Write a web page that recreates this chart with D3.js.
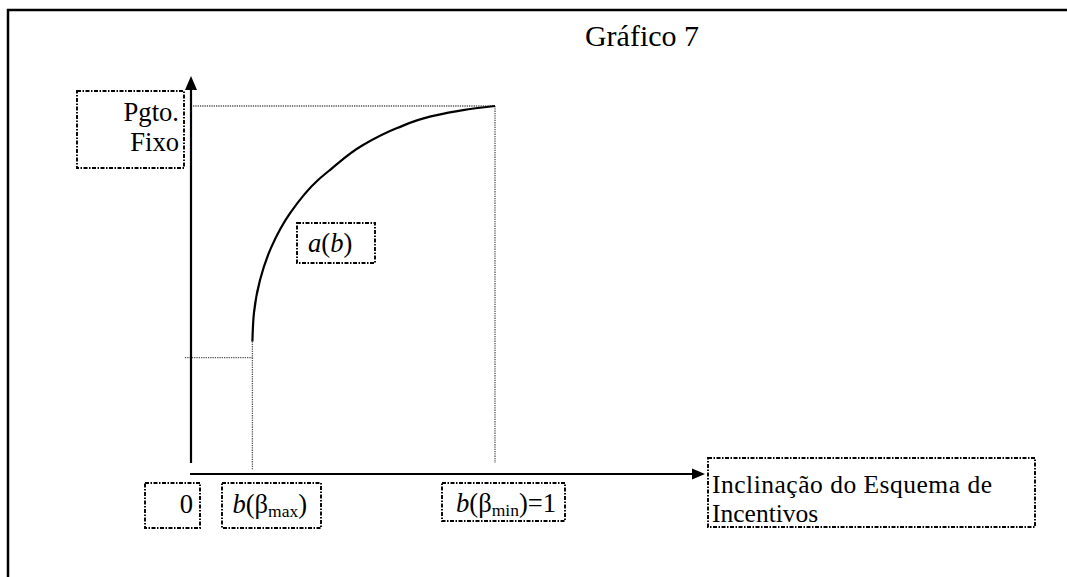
<!DOCTYPE html>
<html><head><meta charset="utf-8">
<script src="https://cdn.jsdelivr.net/npm/d3@7"></script>
<style>body{margin:0;background:#fff}svg{display:block}text{font-family:"Liberation Serif","Times New Roman",serif;fill:#000}</style>
</head><body><svg id="c" width="1067" height="577"></svg>
<script>
// ---- data ----
const title = "Gráfico 7";
const curveB = [0.202,0.207,0.227,0.265,0.326,0.418,0.457,0.566,0.678,0.786,0.895,1.0];
const curveA = [0.360,0.437,0.527,0.618,0.709,0.799,0.826,0.894,0.940,0.971,0.989,1.0];
const bMax = 0.202, bMin = 1.0;
const aLow = 0.316, aTop = 1.0;
const yLabel = ["Pgto.", "Fixo"];
const xLabel = ["Inclinação do Esquema de", "Incentivos"];
const tickLabels = ["0", "b(βmax)", "b(βmin)=1"];

const svg = d3.select("#c");
const x = d3.scaleLinear().domain([0,1]).range([191,495]);
const y = d3.scaleLinear().domain([0,1]).range([474,106]);
const DASH = "4 1.5 1.5 1.5";
const FS = 26.6;

// outer frame
svg.append("rect").attr("x",8).attr("y",10).attr("width",1200).attr("height",700)
  .attr("fill","none").attr("stroke","#000").attr("stroke-width",2.5);

// title
svg.append("text").attr("x",642).attr("y",46).attr("text-anchor","middle")
  .attr("font-size",30).text(title);

// dotted guides
const dotted = (x1,y1,x2,y2)=>svg.append("line").attr("x1",x1).attr("y1",y1).attr("x2",x2).attr("y2",y2)
  .attr("stroke","#555").attr("stroke-width",1.3).attr("stroke-dasharray","1.3 1");
dotted(x(0)+2, y(aTop), x(bMin), y(aTop));
dotted(x(bMin), y(aTop), x(bMin), y(0.03));
dotted(x(-0.02), y(aLow), x(bMax), y(aLow));
dotted(x(bMax), y(curveA[0]), x(bMax), y(0.011));

// axes
svg.append("line").attr("x1",x(0)).attr("y1",y(0.03)).attr("x2",x(0)).attr("y2",88)
  .attr("stroke","#000").attr("stroke-width",2.2);
svg.append("path").attr("d",`M${x(0)-6},90 L${x(0)},76 L${x(0)+6},90 Z`).attr("fill","#000");
svg.append("line").attr("x1",x(0)-1).attr("y1",y(0)).attr("x2",694).attr("y2",y(0))
  .attr("stroke","#000").attr("stroke-width",2.2);
svg.append("path").attr("d",`M692,${y(0)-5.5} L705,${y(0)} L692,${y(0)+5.5} Z`).attr("fill","#000");

// curve
const pts = curveB.map((b,i)=>[b,curveA[i]]);
svg.append("path").datum(pts)
  .attr("d", d3.line().x(d=>x(d[0])).y(d=>y(d[1])).curve(d3.curveMonotoneY))
  .attr("fill","none").attr("stroke","#000").attr("stroke-width",2.2);

// boxes
const box=(x0,y0,x1,y1)=>svg.append("rect").attr("x",x0).attr("y",y0).attr("width",x1-x0).attr("height",y1-y0)
  .attr("fill","none").attr("stroke","#000").attr("stroke-width",1.9).attr("stroke-dasharray",DASH);

// y label
box(77,91,184,168);
{
  const t = svg.append("text").attr("y",121).attr("text-anchor","end").attr("font-size",FS);
  yLabel.forEach((s,i)=>t.append("tspan").attr("x",179).attr("dy",i?30:0).text(s));
}

// curve label a(b)
box(297,223,375,263);
{
  const t = svg.append("text").attr("x",308).attr("y",252).attr("font-size",FS);
  t.append("tspan").attr("font-style","italic").text("a");
  t.append("tspan").text("(");
  t.append("tspan").attr("font-style","italic").text("b");
  t.append("tspan").text(")");
}

// tick labels
box(145,483,200,528);
svg.append("text").attr("x",x(0)+2).attr("y",513).attr("text-anchor","end").attr("font-size",FS).text(tickLabels[0]);

box(222,483,321,528);
{
  const t = svg.append("text").attr("x",x(bMax)-20).attr("y",513).attr("font-size",FS);
  t.append("tspan").attr("font-style","italic").text("b");
  t.append("tspan").text("(β");
  t.append("tspan").attr("font-size",17.5).attr("dy",4).text("max");
  t.append("tspan").attr("dy",-4).text(")");
}

box(442,483,565,521);
{
  const t = svg.append("text").attr("x",x(bMin)-39).attr("y",512).attr("font-size",FS);
  t.append("tspan").attr("font-style","italic").text("b");
  t.append("tspan").text("(β");
  t.append("tspan").attr("font-size",17.5).attr("dy",4).text("min");
  t.append("tspan").attr("dy",-4).text(")=1");
}

// x label
box(708,458,1035,527);
xLabel.forEach((s,i)=>svg.append("text").attr("x",712).attr("y",493+i*28.5)
  .attr("font-size",25.5).attr("textLength",i?null:280).text(s));
</script></body></html>
